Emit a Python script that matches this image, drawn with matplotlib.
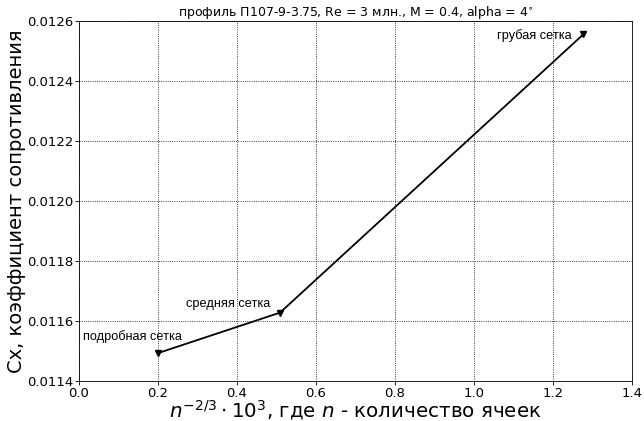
import matplotlib
matplotlib.use('Agg')
import matplotlib.pyplot as plt

# данные: n^(-2/3)*1e3 и Cx для трёх сеток
x_vals = [0.2, 0.509, 1.277]
cx_vals = [0.011493, 0.011628, 0.012556]
labels = ['подробная сетка', 'средняя сетка', 'грубая сетка']
label_x = [0.009, 0.272, 1.058]
label_y = [0.011547, 0.011657, 0.012551]

fig, ax = plt.subplots(figsize=(6.44, 4.21), dpi=100)
ax.plot(x_vals, cx_vals, color='black', lw=1.3, marker='v', ms=4)

for lx, ly, t in zip(label_x, label_y, labels):
    ax.text(lx, ly, t, fontsize=9.2, family='Liberation Sans', ha='left', va='center')

ax.set_xlim(0, 1.4)
ax.set_ylim(0.0114, 0.0126)
ax.set_yticks([0.0114, 0.0116, 0.0118, 0.0120, 0.0122, 0.0124, 0.0126])
ax.set_yticklabels(['0.0114', '0.0116', '0.0118', '0.0120', '0.0122', '0.0124', '0.0126'])
ax.tick_params(labelsize=9.5, length=3, width=0.6, pad=1)
ax.grid(True, color='black', linestyle=':', lw=0.6)
for s in ax.spines.values():
    s.set_linewidth(0.6)

ax.set_title('профиль П107-9-3.75, Re = 3 млн., M = 0.4, alpha = 4$^{\\circ}$', fontsize=9, pad=2)
ax.set_xlabel('$n^{-2/3} \\cdot 10^3$, где $n$ - количество ячеек', fontsize=14.3, labelpad=-1)
ax.set_ylabel('Сх, коэффициент сопротивления', fontsize=14, labelpad=1)

fig.subplots_adjust(left=0.1227, right=0.9814, top=0.950, bottom=0.095)
fig.savefig('out.png', dpi=100)
